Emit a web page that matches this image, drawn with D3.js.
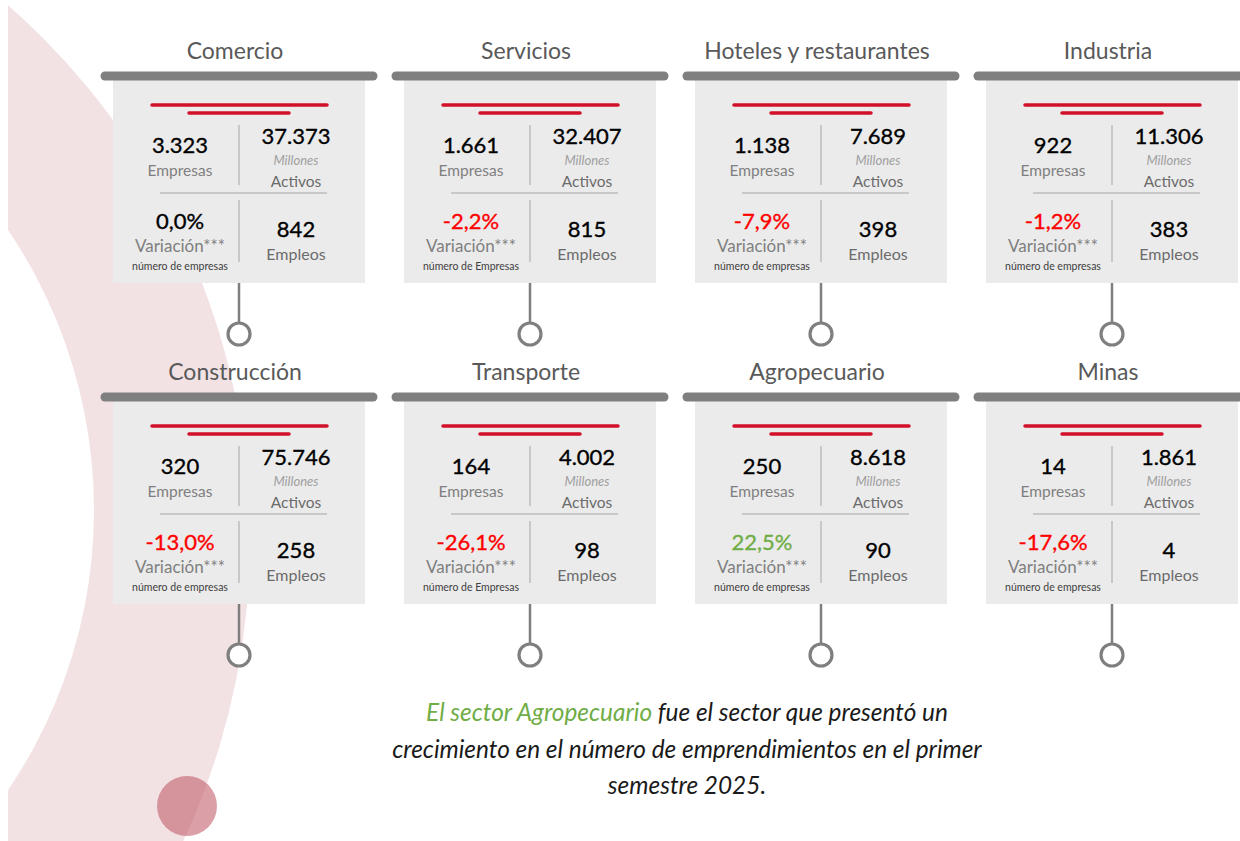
<!DOCTYPE html>
<html><head><meta charset="utf-8">
<script src="https://cdn.jsdelivr.net/npm/d3@7"></script>
<style>
html,body{margin:0;padding:0;background:#fff;}
svg{display:block;font-family:Lato,"Noto Sans",sans-serif;}
</style></head>
<body>
<svg id="c" width="1240" height="841"></svg>
<script>
// ---- data ----
const sectors   = ["Comercio","Servicios","Hoteles y restaurantes","Industria","Construcción","Transporte","Agropecuario","Minas"];
const empresas  = [3323, 1661, 1138, 922, 320, 164, 250, 14];
const activos   = [37373, 32407, 7689, 11306, 75746, 4002, 8618, 1861];
const variacion = [0.0, -2.2, -7.9, -1.2, -13.0, -26.1, 22.5, -17.6];
const empleos   = [842, 815, 398, 383, 258, 98, 90, 4];
const varSub    = ["número de empresas","número de Empresas","número de empresas","número de empresas","número de empresas","número de Empresas","número de empresas","número de empresas"];
const labels    = {emp:"Empresas", mill:"Millones", act:"Activos", vari:"Variación***", empl:"Empleos"};
const noteGreen = "El sector Agropecuario";
const noteLines = [" fue el sector que presentó un","crecimiento en el número de emprendimientos en el primer","semestre 2025."];

const loc = d3.formatLocale({decimal:",", thousands:".", grouping:[3], currency:["",""], minus:"-"});
const fInt = loc.format(",d");
const fPct = loc.format(".1f");

const svg = d3.select("#c");

// ---- background arc band ----
const outer = {cx:-462, cy:540, r:712};
const inner = {cx:-405, cy:510, r:499};
const circ = c => `M${c.cx - c.r},${c.cy}a${c.r},${c.r} 0 1,0 ${2*c.r},0a${c.r},${c.r} 0 1,0 ${-2*c.r},0Z`;
svg.append("path").attr("d", circ(outer) + circ(inner))
  .attr("fill-rule","evenodd").attr("fill","#f3e2e4");
svg.append("rect").attr("x",0).attr("y",0).attr("width",8).attr("height",841).attr("fill","#fff");
svg.append("circle").attr("cx",187).attr("cy",806).attr("r",30)
  .attr("fill","#bf5a68").attr("fill-opacity",0.58);

// ---- layout scales ----
const col = d3.scaleLinear().domain([0,3]).range([239, 1112]);
const row = d3.scaleLinear().domain([0,1]).range([76, 397]);

const cards = svg.selectAll("g.card").data(sectors).join("g")
  .attr("class","card")
  .attr("transform",(d,i)=>`translate(${col(i%4)},${row(Math.floor(i/4))})`);

// box
cards.append("rect").attr("x",-126).attr("y",4).attr("width",252).attr("height",203).attr("fill","#ebebeb");
// hanger bar
cards.append("line").attr("x1",-134).attr("x2",134).attr("y1",0).attr("y2",0)
  .attr("stroke","#7f7f7f").attr("stroke-width",9).attr("stroke-linecap","round");
// title
cards.append("text").attr("x",-4).attr("y",-17).attr("text-anchor","middle")
  .attr("font-size",23).attr("fill","#595959").text(d=>d);
// red lines
cards.append("line").attr("x1",-87).attr("x2",88).attr("y1",29).attr("y2",29)
  .attr("stroke","#d2102a").attr("stroke-width",3.5).attr("stroke-linecap","round");
cards.append("line").attr("x1",-50).attr("x2",50).attr("y1",37).attr("y2",37)
  .attr("stroke","#d2102a").attr("stroke-width",3.5).attr("stroke-linecap","round");
// dividers
cards.append("line").attr("x1",0).attr("x2",0).attr("y1",49).attr("y2",109).attr("stroke","#bdbdbd").attr("stroke-width",1.5);
cards.append("line").attr("x1",0).attr("x2",0).attr("y1",124).attr("y2",186).attr("stroke","#bdbdbd").attr("stroke-width",1.5);
cards.append("line").attr("x1",-79).attr("x2",88).attr("y1",117).attr("y2",117).attr("stroke","#bdbdbd").attr("stroke-width",1.5);
// pendant
cards.append("line").attr("x1",0).attr("x2",0).attr("y1",207).attr("y2",247).attr("stroke","#7f7f7f").attr("stroke-width",2.5);
cards.append("circle").attr("cx",0).attr("cy",258).attr("r",11).attr("fill","#fff").attr("stroke","#7f7f7f").attr("stroke-width",3.2);

const L = -59, R = 57;
function txt(x,y,size,fill,fn,style){
  const t = cards.append("text").attr("x",x).attr("y",y).attr("text-anchor","middle")
    .attr("font-size",size).attr("fill",fill).text(fn);
  if(style) t.attr("font-style",style);
  return t;
}
function num(t){ return t.attr("stroke",function(){return d3.select(this).attr("fill");}).attr("stroke-width",0.35); }
num(txt(L, 77, 22, "#000", (d,i)=>fInt(empresas[i])));
txt(L,100, 15.5, "#7f7f7f", ()=>labels.emp);
num(txt(R, 68, 22, "#000", (d,i)=>fInt(activos[i])));
txt(R, 89, 13, "#a0a0a0", ()=>labels.mill, "italic");
txt(R,111, 15.5, "#6b6b6b", ()=>labels.act);
num(txt(L,153, 22, "#000", (d,i)=>fPct(variacion[i])+"%")
  .attr("fill",(d,i)=>variacion[i]>0 ? "#70ad47" : (variacion[i]<0 ? "#ff0000" : "#000")));
txt(L,176, 17, "#7f7f7f", ()=>labels.vari);
txt(L,194, 10.5, "#404040", (d,i)=>varSub[i]);
num(txt(R,161, 22, "#000", (d,i)=>fInt(empleos[i])));
txt(R,184, 16, "#6b6b6b", ()=>labels.empl);

// ---- note ----
const note = svg.append("g").attr("font-style","italic").attr("font-size",24.4).attr("text-anchor","middle").attr("fill","#1a1a1a");
const t1 = note.append("text").attr("x",687).attr("y",721);
t1.append("tspan").attr("fill","#70ad47").text(noteGreen);
t1.append("tspan").text(noteLines[0]);
noteLines.slice(1).forEach((s,k)=>{
  note.append("text").attr("x",687).attr("y",758+36*k).text(s);
});
</script>
</body></html>
